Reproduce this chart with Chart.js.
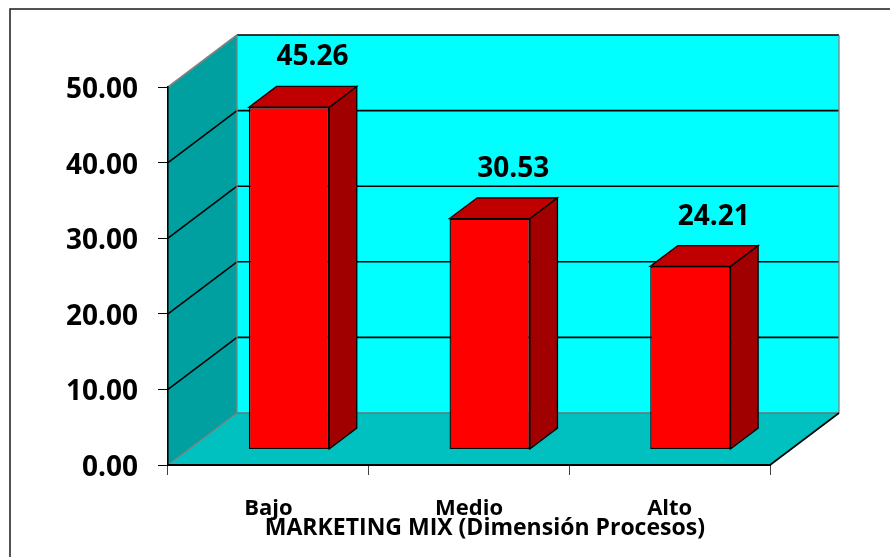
<!DOCTYPE html>
<html>
<head>
<meta charset="utf-8">
<script src="https://cdn.jsdelivr.net/npm/chart.js@4.4.1/dist/chart.umd.min.js"></script>
<style>
  html, body { margin: 0; padding: 0; background: #fff; }
  canvas { display: block; }
</style>
</head>
<body>
<canvas id="procesosChart" width="890" height="557"></canvas>
<script>
// levels and percentages
var niveles = ['Bajo', 'Medio', 'Alto'];
var porcentajes = [45.26, 30.53, 24.21];
var ticksY = [0, 10, 20, 30, 40, 50];
var tituloEjeX = 'MARKETING MIX (Dimensión Procesos)';

var FONT = "'Open Sans', sans-serif";

// depth of the 3D box (px) and where the bars sit inside it
var PROF_X = 69, PROF_Y = 52;
var BARRA_INI = 0.3, BARRA_FIN = 0.7;

function poly(ctx, pts, fill, stroke) {
    ctx.beginPath();
    ctx.moveTo(pts[0][0], pts[0][1]);
    for (var i = 1; i < pts.length; i++) ctx.lineTo(pts[i][0], pts[i][1]);
    ctx.closePath();
    if (fill) { ctx.fillStyle = fill; ctx.fill(); }
    if (stroke) { ctx.strokeStyle = stroke; ctx.lineWidth = 1.3; ctx.stroke(); }
}

function line(ctx, x1, y1, x2, y2, color, w) {
    ctx.beginPath();
    ctx.moveTo(x1, y1);
    ctx.lineTo(x2, y2);
    ctx.strokeStyle = color;
    ctx.lineWidth = w || 1.3;
    ctx.stroke();
}

var caja3d = {
    id: 'caja3d',
    beforeDraw: function (chart) {
        var ctx = chart.ctx, a = chart.chartArea, sy = chart.scales.y;
        var y0 = sy.getPixelForValue(0), yTop = sy.getPixelForValue(sy.max);
        var L = a.left, R = a.right, dx = PROF_X, dy = PROF_Y;

        ctx.save();
        ctx.fillStyle = '#fff';
        ctx.fillRect(0, 0, chart.width, chart.height);

        // outer frame
        ctx.strokeStyle = '#1a1a1a';
        ctx.lineWidth = 1.5;
        ctx.beginPath();
        ctx.moveTo(10, chart.height);
        ctx.lineTo(10, 9);
        ctx.lineTo(chart.width, 9);
        ctx.stroke();

        // floor, side wall, back wall
        poly(ctx, [[L, y0], [R, y0], [R + dx, y0 - dy], [L + dx, y0 - dy]], '#00C0C0');
        poly(ctx, [[L, y0], [L, yTop], [L + dx, yTop - dy], [L + dx, y0 - dy]], '#00A0A0');
        ctx.fillStyle = '#00FFFF';
        ctx.fillRect(L + dx, yTop - dy, R - L, y0 - yTop);

        // gridlines on both walls
        ticksY.forEach(function (v) {
            var py = sy.getPixelForValue(v);
            if (v === 0) {
                line(ctx, L + dx, py - dy, R + dx, py - dy, '#707070');
                line(ctx, L, py, L + dx, py - dy, '#808080');
            } else {
                line(ctx, L + dx, py - dy, R + dx, py - dy, '#000', 1.6);
                line(ctx, L, py, L + dx, py - dy, v === sy.max ? '#808080' : '#000', 1.6);
            }
        });
        line(ctx, L + dx, yTop - dy, L + dx, y0 - dy, '#808080');
        line(ctx, R + dx, yTop - dy, R + dx, y0 - dy, '#808080');
        line(ctx, R, y0, R + dx, y0 - dy, '#000', 1.6);
        ctx.restore();
    },
    beforeDatasetsDraw: function (chart) {
        var ctx = chart.ctx;
        var bdx = (BARRA_FIN - BARRA_INI) * PROF_X, bdy = (BARRA_FIN - BARRA_INI) * PROF_Y;
        ctx.save();
        ctx.translate(BARRA_INI * PROF_X, -BARRA_INI * PROF_Y);
        chart.getDatasetMeta(0).data.forEach(function (el) {
            var xl = el.x - el.width / 2, xr = el.x + el.width / 2;
            // side face
            poly(ctx, [[xr, el.y], [xr + bdx, el.y - bdy], [xr + bdx, el.base - bdy], [xr, el.base]], '#A00000', '#000');
            // top face
            poly(ctx, [[xl, el.y], [xl + bdx, el.y - bdy], [xr + bdx, el.y - bdy], [xr, el.y]], '#C00000', '#000');
        });
    },
    afterDatasetsDraw: function (chart) {
        chart.ctx.restore();
    },
    afterDraw: function (chart) {
        var ctx = chart.ctx, a = chart.chartArea;
        var bdx = (BARRA_FIN - BARRA_INI) * PROF_X, bdy = (BARRA_FIN - BARRA_INI) * PROF_Y;
        ctx.save();
        ctx.fillStyle = '#000';
        ctx.textAlign = 'center';
        ctx.textBaseline = 'middle';
        ctx.font = 'bold 28px ' + FONT;
        chart.getDatasetMeta(0).data.forEach(function (el, i) {
            var lx = el.x + BARRA_INI * PROF_X + bdx * 0.85;
            var ly = el.y - BARRA_INI * PROF_Y - bdy - 29;
            ctx.fillText(porcentajes[i].toFixed(2), lx, ly);
        });
        // axis title
        ctx.font = 'bold 23px ' + FONT;
        ctx.fillText(tituloEjeX, (a.left + a.right) / 2 + PROF_X * 0.23, 528);
        ctx.restore();
    }
};

var ctx = document.getElementById('procesosChart').getContext('2d');
var procesosChart = new Chart(ctx, {
    type: 'bar',
    data: {
        labels: niveles,
        datasets: [{
            label: 'Procesos',
            data: porcentajes,
            backgroundColor: '#FF0000',
            borderColor: '#000',
            borderWidth: 1.3,
            borderSkipped: false,
            barPercentage: 0.4,
            categoryPercentage: 1,
            clip: false
        }]
    },
    options: {
        responsive: false,
        animation: false,
        layout: { padding: { left: 0, top: 87, right: 120, bottom: 0 } },
        plugins: {
            legend: { display: false },
            tooltip: { enabled: false }
        },
        scales: {
            x: {
                grid: { drawOnChartArea: false, drawTicks: true, tickLength: 10, color: '#404040' },
                border: { display: true, color: '#000', width: 2 },
                ticks: { color: '#000', padding: 21, font: { family: FONT, size: 22, weight: 'bold' } },
                afterFit: function (scale) { scale.height = 92; }
            },
            y: {
                min: 0,
                max: 50,
                afterBuildTicks: function (scale) {
                    scale.ticks = ticksY.map(function (v) { return { value: v }; });
                },
                grid: { drawOnChartArea: false, drawTicks: true, tickLength: 10, color: '#000' },
                border: { display: true, color: '#000', width: 1.6 },
                ticks: {
                    color: '#000',
                    padding: 20,
                    labelOffset: 3,
                    font: { family: FONT, size: 28, weight: 'bold' },
                    callback: function (v) { return Number(v).toFixed(2); }
                },
                afterFit: function (scale) { scale.width = 168; }
            }
        }
    },
    plugins: [caja3d]
});
</script>
</body>
</html>
